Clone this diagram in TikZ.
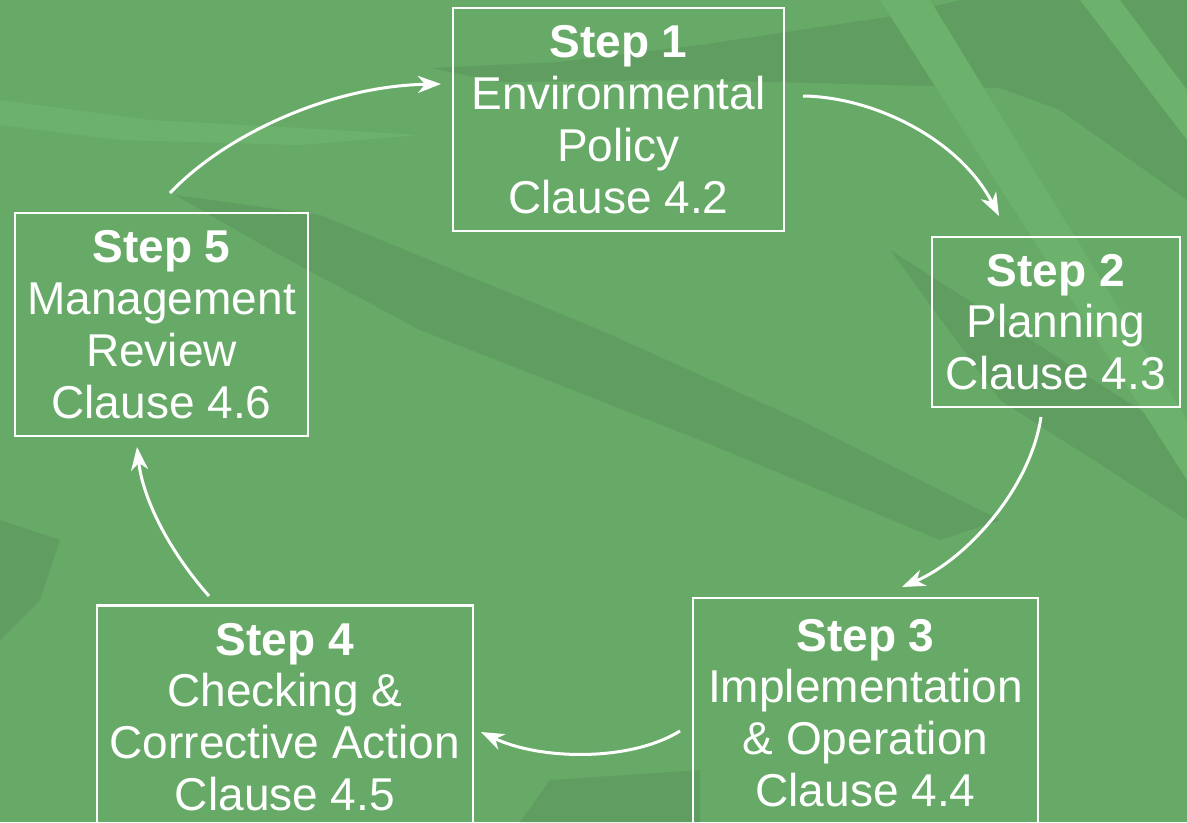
\documentclass[tikz,border=0pt]{standalone}
\usepackage{fontspec}
\setmainfont{Liberation Sans}
\usepackage{tikz}
\usetikzlibrary{arrows.meta}
\definecolor{leafmid}{RGB}{103,170,103}
\definecolor{leafdark}{RGB}{95,157,96}
\definecolor{leaflight}{RGB}{108,177,108}
\tikzset{
  stepbox/.style={draw=white, line width=0.05cm, text=white, align=center, inner sep=0pt,
    font=\fontsize{26.2pt}{29.5pt}\selectfont},
  cyclearrow/.style={draw=white, line width=0.06cm,
    -{Stealth[length=0.46cm, width=0.34cm, inset=0.14cm]}}
}
\begin{document}
\begin{tikzpicture}[x=0.02cm, y=-0.02cm]
% background
\useasboundingbox (0,0) rectangle (1187,822);
\clip (0,0) rectangle (1187,822);
\fill[leafmid] (0,0) rectangle (1187,822);
\fill[leafdark] (430,68) -- (500,82) -- (700,80) -- (1000,88) -- (1060,110) -- (1187,200) -- (1187,0) -- (960,0) -- (900,15) -- (700,45) -- (560,62) -- cycle;
\fill[leafdark] (175,195) -- (320,215) -- (600,330) -- (800,420) -- (900,470) -- (1000,520) -- (940,540) -- (700,440) -- (420,330) -- (280,255) -- cycle;
\fill[leafdark] (890,250) -- (1187,440) -- (1187,520) -- (1000,400) -- cycle;
\fill[leafdark] (0,520) -- (60,540) -- (40,600) -- (0,640) -- cycle;
\fill[leafdark] (550,780) -- (700,770) -- (700,822) -- (520,822) -- cycle;
\fill[leaflight] (880,0) -- (930,0) -- (1187,420) -- (1187,480) -- cycle;
\fill[leaflight] (0,100) -- (150,120) -- (300,128) -- (420,135) -- (300,145) -- (120,140) -- (0,125) -- cycle;
\fill[leaflight] (1080,0) -- (1120,0) -- (1187,90) -- (1187,140) -- cycle;
% steps of the cycle
\node[stepbox, minimum width=6.62cm, minimum height=4.46cm] (policy) at (618.5,119.5)
  {\textbf{Step 1}\\Environmental\\Policy\\Clause 4.2};
\node[stepbox, minimum width=4.96cm, minimum height=3.40cm] (planning) at (1056,322)
  {\textbf{Step 2}\\Planning\\Clause 4.3};
\node[stepbox, minimum width=6.90cm, minimum height=4.60cm] (operation) at (865.5,713)
  {\textbf{Step 3}\\Implementation\\\& Operation\\Clause 4.4};
\node[stepbox, minimum width=7.52cm, minimum height=4.46cm] (checking) at (285,717)
  {\textbf{Step 4}\\Checking \&\\Corrective Action\\Clause 4.5};
\node[stepbox, minimum width=5.86cm, minimum height=4.46cm] (review) at (161.5,324.5)
  {\textbf{Step 5}\\Management\\Review\\Clause 4.6};
% arrow ends
\coordinate (a1s) at (170,193);  \coordinate (a1e) at (441,84);
\coordinate (a2s) at (803,96);   \coordinate (a2e) at (999,216);
\coordinate (a3s) at (1041,417); \coordinate (a3e) at (902,587);
\coordinate (a4s) at (680,731);  \coordinate (a4e) at (481,732);
\coordinate (a5s) at (209,596);  \coordinate (a5e) at (137,447);
% arrows
\draw[cyclearrow] (a1s) .. controls (225,135) and (330,86) .. (a1e);
\draw[cyclearrow] (a2s) .. controls (875,97) and (960,140) .. (a2e);
\draw[cyclearrow] (a3s) .. controls (1030,490) and (965,560) .. (a3e);
\draw[cyclearrow] (a4s) .. controls (630,762) and (540,760) .. (a4e);
\draw[cyclearrow] (a5s) .. controls (170,552) and (143,500) .. (a5e);
\end{tikzpicture}
\end{document}
